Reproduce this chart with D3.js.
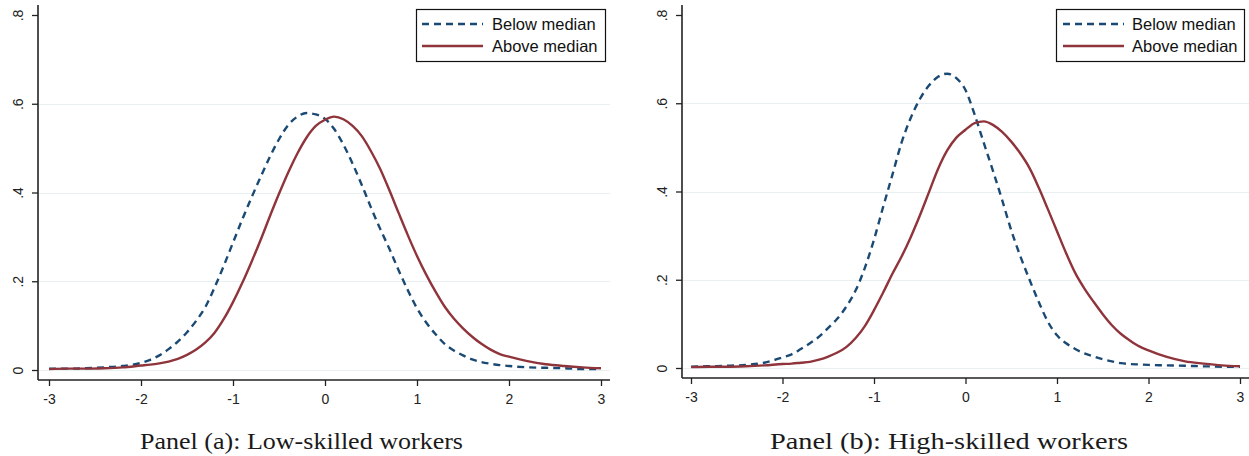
<!DOCTYPE html>
<html>
<head>
<meta charset="utf-8">
<script src="https://cdn.jsdelivr.net/npm/d3@7"></script>
<style>
  html, body { margin: 0; padding: 0; background: #fff; }
  svg { display: block; }
</style>
</head>
<body>
<svg id="chart" width="1249" height="456"></svg>
<script>
// ---------------- DATA ----------------
const xGrid = [-3.0, -2.8, -2.6, -2.4, -2.2,
  -2.0, -1.9, -1.8, -1.7, -1.6, -1.5, -1.4, -1.3, -1.2, -1.1, -1.0,
  -0.9, -0.8, -0.7, -0.6, -0.5, -0.4, -0.3, -0.2, -0.1, 0.0,
  0.1, 0.2, 0.3, 0.4, 0.5, 0.6, 0.7, 0.8, 0.9, 1.0,
  1.1, 1.2, 1.3, 1.4, 1.5, 1.6, 1.7, 1.8, 1.9, 2.0,
  2.2, 2.4, 2.6, 2.8, 3.0];

// Panel (a): Low-skilled workers
const lowBelow = [0.003, 0.003, 0.004, 0.006, 0.009,
  0.016, 0.023, 0.033, 0.047, 0.064, 0.085, 0.111, 0.142, 0.186, 0.235, 0.287,
  0.339, 0.388, 0.435, 0.480, 0.520, 0.552, 0.571, 0.579, 0.576, 0.566,
  0.543, 0.508, 0.465, 0.417, 0.366, 0.318, 0.273, 0.225, 0.180, 0.139,
  0.107, 0.081, 0.059, 0.044, 0.033, 0.024, 0.018, 0.014, 0.011, 0.009,
  0.006, 0.005, 0.004, 0.002, 0.002];
const lowAbove = [0.002, 0.003, 0.003, 0.004, 0.006,
  0.010, 0.012, 0.015, 0.019, 0.025, 0.034, 0.046, 0.062, 0.084, 0.115, 0.153,
  0.196, 0.243, 0.293, 0.346, 0.397, 0.445, 0.488, 0.524, 0.550, 0.564,
  0.571, 0.565, 0.550, 0.527, 0.493, 0.453, 0.405, 0.354, 0.304, 0.257,
  0.215, 0.177, 0.143, 0.116, 0.094, 0.075, 0.059, 0.046, 0.036, 0.030,
  0.020, 0.013, 0.009, 0.006, 0.004];

// Panel (b): High-skilled workers
const highBelow = [0.003, 0.004, 0.005, 0.007, 0.012,
  0.024, 0.031, 0.043, 0.056, 0.071, 0.091, 0.112, 0.140, 0.176, 0.227, 0.291,
  0.365, 0.437, 0.510, 0.566, 0.609, 0.640, 0.660, 0.667, 0.657, 0.630,
  0.574, 0.510, 0.447, 0.381, 0.312, 0.253, 0.200, 0.150, 0.105, 0.074,
  0.056, 0.043, 0.033, 0.026, 0.020, 0.015, 0.011, 0.009, 0.008, 0.007,
  0.006, 0.005, 0.004, 0.003, 0.003];
const highAbove = [0.002, 0.003, 0.003, 0.004, 0.006,
  0.009, 0.010, 0.012, 0.014, 0.019, 0.026, 0.035, 0.048, 0.068, 0.095, 0.131,
  0.171, 0.213, 0.252, 0.296, 0.345, 0.398, 0.451, 0.493, 0.522, 0.540,
  0.555, 0.559, 0.551, 0.535, 0.513, 0.486, 0.453, 0.409, 0.360, 0.310,
  0.260, 0.215, 0.180, 0.150, 0.122, 0.097, 0.077, 0.062, 0.049, 0.040,
  0.025, 0.015, 0.010, 0.006, 0.004];

const xTicks = [-3, -2, -1, 0, 1, 2, 3];
const xTickLabels = ["-3", "-2", "-1", "0", "1", "2", "3"];
const yTicks = [0, 0.2, 0.4, 0.6, 0.8];
const yTickLabels = ["0", ".2", ".4", ".6", ".8"];
const yGridTicks = [0, 0.2, 0.4, 0.6];
const seriesNames = ["Below median", "Above median"];
const panelTitles = ["Panel (a):  Low-skilled workers", "Panel (b):  High-skilled workers"];

// ---------------- LAYOUT / STYLE ----------------
const colors = ["#1a4a73", "#8f343b"];
const dashes = ["7,5", null];

const panels = [
  { below: lowBelow, above: lowAbove, title: panelTitles[0],
    xr: [49, 601], yr: [370, 15], axisX: 38, axisY: 380, right: 610, top: 5,
    legend: { x: 416, y: 9, w: 189, h: 52, lx1: 422, lx2: 483, tx: 492 },
    titleX: 140, titleW: 323 },
  { below: highBelow, above: highAbove, title: panelTitles[1],
    xr: [691, 1240], yr: [368, 15], axisX: 682, axisY: 378, right: 1249, top: 5,
    legend: { x: 1056, y: 9, w: 188, h: 52, lx1: 1063, lx2: 1124, tx: 1132 },
    titleX: 770, titleW: 358 }
];

const svg = d3.select("#chart");

panels.forEach(p => {
  const x = d3.scaleLinear().domain([-3, 3]).range(p.xr);
  const y = d3.scaleLinear().domain([0, 0.8]).range(p.yr);
  const g = svg.append("g");

  // gridlines
  g.selectAll("line.grid").data(yGridTicks).enter().append("line")
    .attr("x1", p.axisX + 1).attr("x2", p.right)
    .attr("y1", d => Math.round(y(d)) + 0.5).attr("y2", d => Math.round(y(d)) + 0.5)
    .attr("stroke", "#e9f0f2").attr("stroke-width", 1.2);

  // y axis
  const yAxis = d3.axisLeft(y).tickValues(yTicks)
    .tickFormat((d, i) => yTickLabels[i]).tickSize(6).tickPadding(0);
  const ya = g.append("g").attr("transform", `translate(${p.axisX},0)`).call(yAxis);
  ya.select(".domain").remove();
  ya.selectAll(".tick line").attr("stroke", "#222").attr("stroke-width", 1.3);
  ya.selectAll(".tick text")
    .attr("font-family", "'Liberation Sans', Arial, sans-serif")
    .attr("font-size", 14).attr("fill", "#222")
    .attr("text-anchor", "middle")
    .attr("x", null).attr("dy", null)
    .attr("transform", "translate(-15,0) rotate(-90)");
  g.append("line").attr("x1", p.axisX).attr("x2", p.axisX)
    .attr("y1", p.top).attr("y2", p.axisY)
    .attr("stroke", "#222").attr("stroke-width", 1.6);

  // x axis
  const xAxis = d3.axisBottom(x).tickValues(xTicks)
    .tickFormat((d, i) => xTickLabels[i]).tickSize(6).tickPadding(8);
  const xa = g.append("g").attr("transform", `translate(0,${p.axisY})`).call(xAxis);
  xa.select(".domain").remove();
  xa.selectAll(".tick line").attr("stroke", "#222").attr("stroke-width", 1.3);
  xa.selectAll(".tick text")
    .attr("font-family", "'Liberation Sans', Arial, sans-serif")
    .attr("font-size", 14).attr("fill", "#222");
  g.append("line").attr("x1", p.axisX).attr("x2", p.right)
    .attr("y1", p.axisY).attr("y2", p.axisY)
    .attr("stroke", "#222").attr("stroke-width", 1.6);

  // curves
  const line = d3.line()
    .x(d => x(d[0])).y(d => y(d[1]))
    .curve(d3.curveMonotoneX);
  const series = [p.below, p.above];
  series.forEach((vals, i) => {
    const pts = xGrid.map((xv, j) => [xv, vals[j]]);
    g.append("path").datum(pts)
      .attr("d", line)
      .attr("fill", "none")
      .attr("stroke", colors[i])
      .attr("stroke-width", 2.4)
      .attr("stroke-dasharray", dashes[i]);
  });

  // legend
  const L = p.legend;
  const lg = g.append("g");
  lg.append("rect").attr("x", L.x + 0.5).attr("y", L.y + 0.5)
    .attr("width", L.w).attr("height", L.h)
    .attr("fill", "#fff").attr("stroke", "#111").attr("stroke-width", 1.2);
  seriesNames.forEach((name, i) => {
    const cy = L.y + 15 + i * 22;
    lg.append("line").attr("x1", L.lx1).attr("x2", L.lx2)
      .attr("y1", cy).attr("y2", cy)
      .attr("stroke", colors[i]).attr("stroke-width", 2.4)
      .attr("stroke-dasharray", dashes[i]);
    lg.append("text").attr("x", L.tx).attr("y", cy + 6)
      .attr("font-family", "'Liberation Sans', Arial, sans-serif")
      .attr("font-size", 16.5).attr("fill", "#111")
      .text(name);
  });

  // title
  g.append("text").attr("x", p.titleX).attr("y", 449)
    .attr("font-family", "'Liberation Serif', 'Times New Roman', serif")
    .attr("font-size", 23).attr("fill", "#1a1a1a")
    .attr("textLength", p.titleW).attr("lengthAdjust", "spacingAndGlyphs")
    .text(p.title);
});
</script>
</body>
</html>
